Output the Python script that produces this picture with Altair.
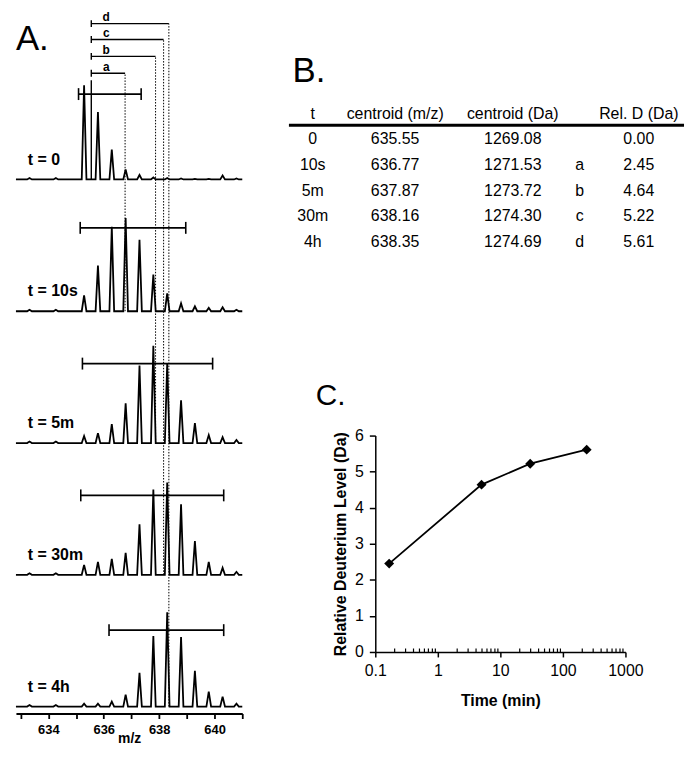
import altair as alt
import pandas as pd

FONT = "Liberation Sans"

# ---------------- data ----------------
time_labels = ["0", "10s", "5m", "30m", "4h"]
t_labels = ["t = 0", "t = 10s", "t = 5m", "t = 30m", "t = 4h"]

# isotope peak m/z positions (z = 2) and relative intensities per time point
peak_mz = [635.29, 635.79, 636.29, 636.79, 637.29, 637.79,
           638.29, 638.79, 639.29, 639.79, 640.29, 640.79]
int_0 = [95, 68, 30, 10, 4.5, 2, 1.5, 1, 0.5, 0.5, 4, 1]
int_10s = [16, 46, 85, 94, 72, 37, 18, 8, 5, 3.5, 4, 1.5]
int_5m = [7, 10, 19, 40, 78, 98, 80, 43, 20, 8, 6, 3]
int_30m = [10, 13, 16, 22, 51, 86, 93, 71, 34, 13, 7, 3]
int_4h = [3, 3, 5, 12, 34, 71, 95, 70, 36, 15, 10, 3]
noise_mz = [633.32, 634.27]
noise_int = [1.5, 1.5]

# envelope range bars
bar_lo = [635.09, 635.15, 635.23, 635.17, 636.19]
bar_hi = [637.35, 638.96, 639.93, 640.33, 640.33]
bar_level = [86, 84, 80, 80, 77]

# table values
centroid_mz = [635.55, 636.77, 637.87, 638.16, 638.35]
centroid_da = [1269.08, 1271.53, 1273.72, 1274.30, 1274.69]
letters = ["", "a", "b", "c", "d"]
rel_d = [0.00, 2.45, 4.64, 5.22, 5.61]
headers = ["t", "centroid (m/z)", "centroid (Da)", "", "Rel. D (Da)"]

# deuterium uptake plot
time_min = [10 / 60, 5, 30, 240]
uptake = [2.45, 4.64, 5.22, 5.61]
major_ticks = [0.1, 1, 10, 100, 1000]
minor_ticks = [0.2, 0.3, 0.4, 0.5, 0.6, 0.7, 0.8, 0.9,
               2, 3, 4, 5, 6, 7, 8, 9,
               20, 30, 40, 50, 60, 70, 80, 90,
               200, 300, 400, 500, 600, 700, 800, 900]

# ---------------- layout constants ----------------
MZ_DOMAIN = [632.83, 641.0]
A_W, A_H = 228, 708
GAP = 132.75
BOTTOM = 7
bases = [BOTTOM + (4 - k) * GAP for k in range(5)]
HALF = 0.085
bracket_lvl = [None, 107, 124, 141, 157]
CAP = 6
BR_CAP = 3.5

# ---------------- Panel A ----------------
all_ints = [int_0, int_10s, int_5m, int_30m, int_4h]
spec_rows = []
for k, (t, ints) in enumerate(zip(time_labels, all_ints)):
    b = bases[k]
    pk = sorted(list(zip(noise_mz, noise_int)) + list(zip(peak_mz, ints)))
    spec_rows.append(dict(spec=t, mz=MZ_DOMAIN[0], y=b))
    for m, h in pk:
        spec_rows.append(dict(spec=t, mz=m - HALF, y=b))
        spec_rows.append(dict(spec=t, mz=m, y=b + h))
        spec_rows.append(dict(spec=t, mz=m + HALF, y=b))
    spec_rows.append(dict(spec=t, mz=MZ_DOMAIN[1], y=b))
spec_df = pd.DataFrame(spec_rows)

bars_df = pd.DataFrame([dict(mz=bar_lo[k], mz2=bar_hi[k], y=bases[k] + bar_level[k]) for k in range(5)])
caps_df = pd.DataFrame(
    [dict(mz=m, y=bases[k] + bar_level[k] - CAP, y2=bases[k] + bar_level[k] + CAP)
     for k in range(5) for m in (bar_lo[k], bar_hi[k])])

br_df = pd.DataFrame([dict(mz=centroid_mz[0], mz2=centroid_mz[k], y=bases[0] + bracket_lvl[k],
                           lab=letters[k]) for k in range(1, 5)])
br_caps_df = pd.DataFrame([dict(mz=centroid_mz[0], y=bases[0] + bracket_lvl[k] - BR_CAP,
                                y2=bases[0] + bracket_lvl[k] + BR_CAP) for k in range(1, 5)])
br_lab_df = pd.DataFrame([dict(mz=636.09, y=bases[0] + bracket_lvl[k] + 2.4, lab=letters[k])
                          for k in range(1, 5)])
dot_df = pd.DataFrame([dict(mz=centroid_mz[k], y=bases[k], y2=bases[0] + bracket_lvl[k]) for k in range(1, 5)])
t0_line_df = pd.DataFrame([dict(mz=centroid_mz[0], y=bases[0], y2=bases[0] + 100)])
tlab_df = pd.DataFrame([dict(mz=633.26, y=bases[k] + 20, lab=t_labels[k]) for k in range(5)])
A_lab_df = pd.DataFrame({"lab": ["A."]})

xA = alt.X("mz:Q",
           scale=alt.Scale(domain=MZ_DOMAIN, nice=False, zero=False),
           axis=alt.Axis(values=list(range(633, 642)),
                         labelExpr="datum.value % 2 == 0 ? datum.label : ''",
                         title="m/z", titleFontSize=14, titleFontWeight="bold",
                         titlePadding=-5,
                         labelFontSize=13, labelFontWeight="bold", labelPadding=5,
                         tickSize=5, tickWidth=1.8, domainWidth=2,
                         labelFlush=False, labelOverlap=False, grid=False))
yA = alt.Y("y:Q", scale=alt.Scale(domain=[0, A_H], nice=False, zero=False), axis=None)

spectra = alt.Chart(spec_df).mark_line(color="black", strokeWidth=1.8, strokeJoin="miter").encode(
    x=xA, y=yA, detail="spec:N")
bars = alt.Chart(bars_df).mark_rule(color="black", strokeWidth=1.6).encode(
    x=xA, x2="mz2:Q", y=yA)
caps = alt.Chart(caps_df).mark_rule(color="black", strokeWidth=1.6).encode(
    x=xA, y=yA, y2="y2:Q")
brackets = alt.Chart(br_df).mark_rule(color="black", strokeWidth=1.4).encode(
    x=xA, x2="mz2:Q", y=yA)
br_caps = alt.Chart(br_caps_df).mark_rule(color="black", strokeWidth=1.4).encode(
    x=xA, y=yA, y2="y2:Q")
br_labs = alt.Chart(br_lab_df).mark_text(font=FONT, fontSize=12, fontWeight="bold",
                                         baseline="alphabetic", align="center", color="black").encode(
    x=xA, y=yA, text="lab:N")
dots = alt.Chart(dot_df).mark_rule(color="black", strokeWidth=1, strokeDash=[1.5, 1.5]).encode(
    x=xA, y=yA, y2="y2:Q")
t0_line = alt.Chart(t0_line_df).mark_rule(color="black", strokeWidth=1.4).encode(
    x=xA, y=yA, y2="y2:Q")
tlabs = alt.Chart(tlab_df).mark_text(font=FONT, fontSize=16, fontWeight="bold",
                                     baseline="middle", align="left", color="black").encode(
    x=xA, y=yA, text="lab:N")
A_lab = alt.Chart(A_lab_df).mark_text(font=FONT, fontSize=35, align="left",
                                      baseline="alphabetic", color="black").encode(
    x=alt.value(0), y=alt.value(40), text="lab:N")

panelA = alt.layer(spectra, bars, caps, dots, t0_line, brackets, br_caps, br_labs,
                   tlabs, A_lab).properties(width=A_W, height=A_H)

# ---------------- Panel B (table) ----------------
B_W, B_H = 252, 250
yB = alt.Y("ri:Q", scale=alt.Scale(domain=[-4.018, 5.650], reverse=True, nice=False, zero=False),
           axis=None)

body = pd.DataFrame({
    "ri": list(range(1, 6)),
    "t": time_labels,
    "cmz": [f"{v:.2f}" for v in centroid_mz],
    "cda": [f"{v:.2f}" for v in centroid_da],
    "let": letters,
    "rel": [f"{v:.2f}" for v in rel_d],
})
head = pd.DataFrame({"ri": [0] * 5, "h": headers, "col": list(range(5))})

col_x = [-63, 20, 138.5, 206, 265.5]


def txt(df, field, xpx, align="center"):
    return alt.Chart(df).mark_text(font=FONT, fontSize=16, align=align, baseline="middle",
                                   color="black").encode(
        x=alt.value(xpx), y=yB, text=f"{field}:N")


head_layers = [txt(head[head.col == i], "h", col_x[i]) for i in range(5) if headers[i]]
body_layers = [txt(body, "t", col_x[0]), txt(body, "cmz", col_x[1]), txt(body, "cda", col_x[2]),
               txt(body, "let", col_x[3]), txt(body, "rel", 281, align="right")]
rule_df = pd.DataFrame({"a": [0]})
head_rule = alt.Chart(rule_df).mark_rule(color="black", strokeWidth=3).encode(
    x=alt.value(-87), x2=alt.value(311), y=alt.value(115.3))
B_lab = alt.Chart(pd.DataFrame({"lab": ["B."]})).mark_text(
    font=FONT, fontSize=35, align="left", baseline="alphabetic", color="black").encode(
    x=alt.value(-83.3), y=alt.value(72), text="lab:N")

panelB = alt.layer(*head_layers, *body_layers, head_rule, B_lab).properties(width=B_W, height=B_H)

# ---------------- Panel C ----------------
C_W, C_H = 252, 218
up_df = pd.DataFrame({"time": time_min, "reld": uptake})
xs_log = alt.Scale(type="log", domain=[0.1, 1000], nice=False)
yC = alt.Y("reld:Q", scale=alt.Scale(domain=[0, 6], nice=False, zero=True),
           axis=alt.Axis(values=[0, 1, 2, 3, 4, 5, 6], title="Relative Deuterium Level (Da)",
                         titleFontSize=16, titleFontWeight="bold", titlePadding=6,
                         labelFontSize=16, labelPadding=6, tickSize=6, tickWidth=1.5,
                         domainWidth=1.5, grid=False))
xC = alt.X("time:Q", scale=xs_log,
           axis=alt.Axis(values=major_ticks, format="~g", title="Time (min)", orient="bottom",
                         titleFontSize=16, titleFontWeight="bold", titlePadding=14,
                         labelFontSize=16, labelPadding=6, tickSize=5, tickWidth=1.5,
                         domainWidth=1.5, labelFlush=False, labelOverlap=False, grid=False))
xC_minor = alt.X("time:Q", scale=xs_log,
                 axis=alt.Axis(values=minor_ticks, orient="top", offset=-C_H, labels=False,
                               domain=False, tickSize=4, tickWidth=1.2, title=None, grid=False))

c_line = alt.Chart(up_df).mark_line(
    color="black", strokeWidth=1.8,
    point=alt.OverlayMarkDef(shape="diamond", filled=True, size=100, color="black", opacity=1),
).encode(x=xC, y=yC)
c_minor = alt.Chart(up_df).mark_point(opacity=0).encode(x=xC_minor, y=yC)
C_lab = alt.Chart(pd.DataFrame({"lab": ["C."]})).mark_text(
    font=FONT, fontSize=30, align="left", baseline="alphabetic", color="black").encode(
    x=alt.value(-60), y=alt.value(-31), text="lab:N")

panelC = alt.layer(c_line, c_minor, C_lab).resolve_axis(x="independent").properties(
    width=C_W, height=C_H)

# ---------------- assemble ----------------
PAD = {"left": 4, "top": 0, "right": 0, "bottom": 0}
right = alt.vconcat(panelB, panelC, spacing=178, bounds="flush")
chart = alt.hconcat(panelA, right, spacing=134, bounds="flush").properties(
    padding=PAD,
    background="white",
).configure(font=FONT, padding=PAD).configure_view(stroke=None).configure_axis(
    domainColor="black", tickColor="black", labelColor="black", titleColor="black",
    labelFont=FONT, titleFont=FONT)

chart.save("out.html", embed_options={"renderer": "svg", "actions": False})
